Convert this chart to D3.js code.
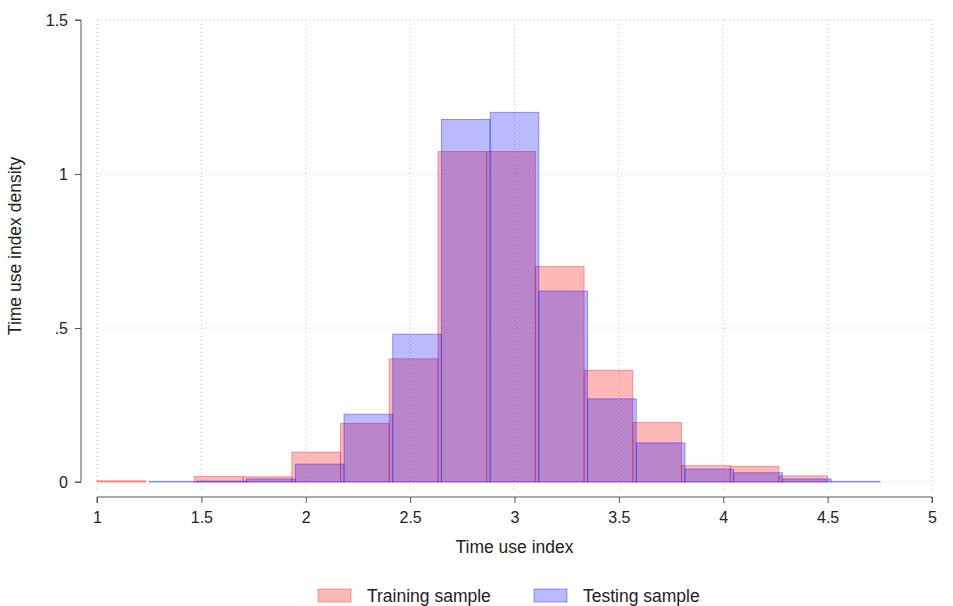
<!DOCTYPE html>
<html>
<head>
<meta charset="utf-8">
<script src="https://cdn.jsdelivr.net/npm/d3@7"></script>
<style>
  body { margin: 0; background: #fff; }
  svg { display: block; font-family: "Liberation Sans", Arial, sans-serif; }
</style>
</head>
<body>
<svg id="chart" width="953" height="606"></svg>
<script>
// Histogram bin layout: 15 bins of equal width for each sample
const trainingStart = 1.0;
const testingStart = 1.25;
const binCount = 15;
const binWidth = 3.5 / 15;

// Density per bin
const trainingDensity = [0.004, 0, 0.018, 0.017, 0.097, 0.19, 0.40, 1.073, 1.073, 0.70, 0.363, 0.193, 0.053, 0.051, 0.02];
const testingDensity  = [0.002, 0.003, 0.01, 0.058, 0.22, 0.48, 1.177, 1.2, 0.62, 0.27, 0.127, 0.042, 0.03, 0.01, 0.002];

const xTicks = [1, 1.5, 2, 2.5, 3, 3.5, 4, 4.5, 5];
const yTicks = [0, 0.5, 1, 1.5];
const yTickLabels = ["0", ".5", "1", "1.5"];

const seriesNames = ["Training sample", "Testing sample"];
const seriesFill = ["rgba(255,0,0,0.28)", "rgba(0,0,255,0.27)"];
const seriesStroke = ["rgba(255,0,0,0.35)", "rgba(40,40,255,0.45)"];

const svg = d3.select("#chart");
const x = d3.scaleLinear().domain([1, 5]).range([97, 932]);
const y = d3.scaleLinear().domain([0, 1.5]).range([482, 20]);

// Dotted grid
const grid = svg.append("g").attr("stroke", "#c8c8c8").attr("stroke-width", 1).attr("stroke-dasharray", "1,3");
grid.selectAll(".vg").data(xTicks).join("line")
  .attr("x1", d => x(d)).attr("x2", d => x(d))
  .attr("y1", y(1.5)).attr("y2", y(0) + 8);
grid.selectAll(".hg").data(yTicks).join("line")
  .attr("x1", x(1)).attr("x2", x(5))
  .attr("y1", d => y(d)).attr("y2", d => y(d));

function bins(start, values) {
  return values.map((v, i) => ({ x0: start + i * binWidth, x1: start + (i + 1) * binWidth, v }));
}

const seriesBins = [bins(trainingStart, trainingDensity), bins(testingStart, testingDensity)];

seriesBins.forEach((data, s) => {
  svg.append("g").selectAll("rect").data(data).join("rect")
    .attr("x", d => x(d.x0))
    .attr("width", d => x(d.x1) - x(d.x0))
    .attr("y", d => y(d.v))
    .attr("height", d => y(0) - y(d.v))
    .attr("fill", seriesFill[s])
    .attr("stroke", seriesStroke[s])
    .attr("stroke-width", 1);
});

const tickFont = 16;
const titleFont = 17.5;

// Y axis (offset to the left of the plot region)
const yAxis = d3.axisLeft(y).tickValues(yTicks).tickFormat((d, i) => yTickLabels[i]).tickSize(6).tickPadding(7);
const gy = svg.append("g").attr("transform", "translate(81,0)").call(yAxis);
gy.select(".domain").attr("stroke", "#555").attr("d", `M-6,${y(1.5)}H0V${y(0)}H-6`);
gy.selectAll(".tick line").attr("stroke", "#555");
gy.selectAll(".tick text").attr("font-size", tickFont).attr("fill", "#222").attr("font-family", "Liberation Sans, Arial, sans-serif");

// X axis (offset below the plot region)
const xAxis = d3.axisBottom(x).tickValues(xTicks).tickFormat(d3.format("")).tickSize(6).tickPadding(9);
const gx = svg.append("g").attr("transform", "translate(0,497)").call(xAxis);
gx.select(".domain").attr("stroke", "#555").attr("d", `M${x(1)},6V0H${x(5)}V6`);
gx.selectAll(".tick line").attr("stroke", "#555");
gx.selectAll(".tick text").attr("font-size", tickFont).attr("fill", "#222").attr("font-family", "Liberation Sans, Arial, sans-serif");

// Axis titles
svg.append("text").attr("x", (x(1) + x(5)) / 2).attr("y", 553)
  .attr("text-anchor", "middle").attr("font-size", titleFont).attr("fill", "#222")
  .text("Time use index");
svg.append("text").attr("transform", `translate(21,246) rotate(-90)`)
  .attr("text-anchor", "middle").attr("font-size", titleFont).attr("fill", "#222")
  .text("Time use index density");

// Legend
const legendX = [318, 534];
const lg = svg.append("g");
seriesNames.forEach((name, i) => {
  lg.append("rect").attr("x", legendX[i]).attr("y", 589).attr("width", 33).attr("height", 13)
    .attr("fill", seriesFill[i]).attr("stroke", seriesStroke[i]);
  lg.append("text").attr("x", legendX[i] + 49).attr("y", 601.5)
    .attr("font-size", titleFont).attr("fill", "#222").text(name);
});
</script>
</body>
</html>
